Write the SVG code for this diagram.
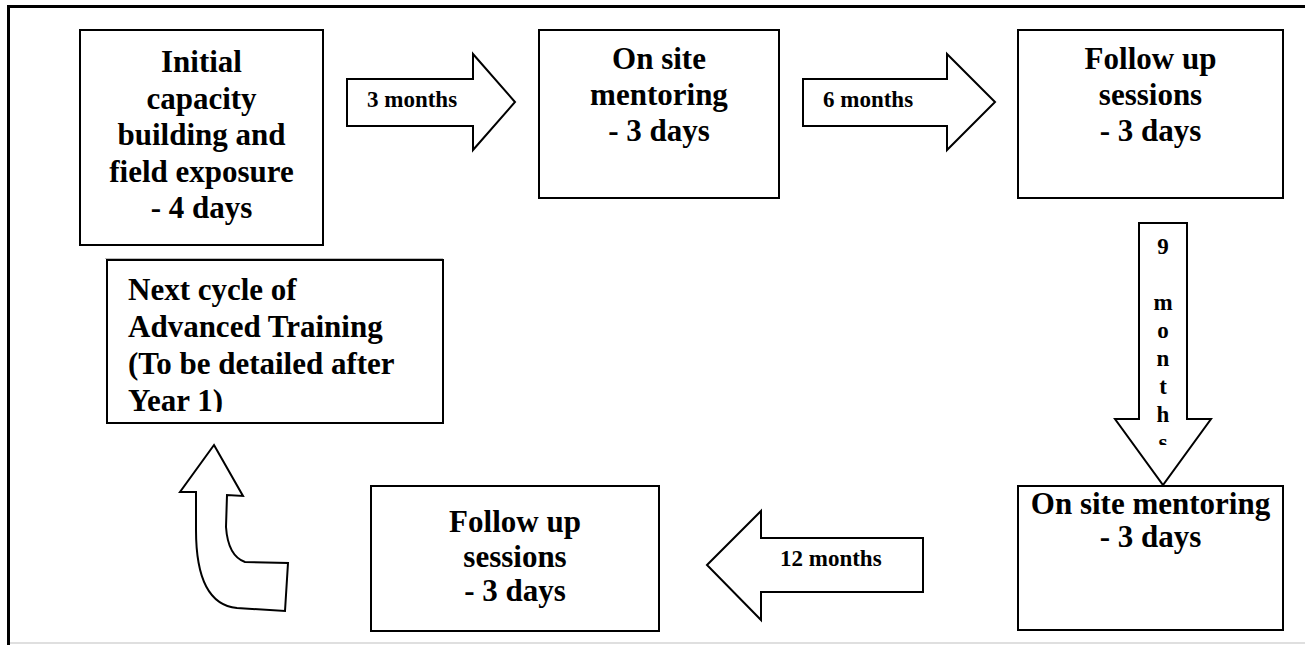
<svg xmlns="http://www.w3.org/2000/svg" width="1305" height="645" viewBox="0 0 1305 645">
<style>
.box{fill:#fff;stroke:#000;stroke-width:2}
.arr{fill:#fff;stroke:#000;stroke-width:2;stroke-linejoin:miter}
.t{font-family:"Liberation Serif","Times New Roman",serif;font-weight:bold;font-size:31px;fill:#000;text-anchor:middle}
.tl{font-family:"Liberation Serif","Times New Roman",serif;font-weight:bold;font-size:31px;fill:#000}
.lb{font-family:"Liberation Serif","Times New Roman",serif;font-weight:bold;font-size:23px;fill:#000}
.lbc{font-family:"Liberation Serif","Times New Roman",serif;font-weight:bold;font-size:23px;fill:#000;text-anchor:middle}
</style>
<defs>
<clipPath id="clipNext"><rect x="107" y="260" width="336" height="152"/></clipPath>
<clipPath id="clip9"><rect x="1139" y="223" width="48" height="222"/></clipPath>
</defs>
<rect x="0" y="0" width="1305" height="645" fill="#fff"/>
<g id="frame">
<line x1="7" y1="6.5" x2="1305" y2="6.5" stroke="#000" stroke-width="3"/>
<line x1="8.5" y1="5" x2="8.5" y2="645" stroke="#000" stroke-width="3"/>
<line x1="10" y1="643" x2="1305" y2="643" stroke="#d4d4d4" stroke-width="1.5"/>
</g>
<g id="connectors">
<polygon class="arr" points="347,79 473,79 473,54 515,102 473,150 473,126 347,126"/>
<text class="lb" x="367" y="107">3 months</text>
<polygon class="arr" points="803,79 947,79 947,54 995,102 947,150 947,126 803,126"/>
<text class="lb" x="823" y="107">6 months</text>
<polygon class="arr" points="1139,223 1187,223 1187,419 1211,419 1163,485 1115,419 1139,419"/>
<g clip-path="url(#clip9)">
<text class="lbc" x="1163" y="254">9</text>
<text class="lbc" x="1163" y="310">m</text>
<text class="lbc" x="1163" y="338">o</text>
<text class="lbc" x="1163" y="366">n</text>
<text class="lbc" x="1163" y="394">t</text>
<text class="lbc" x="1163" y="422">h</text>
<text class="lbc" x="1163" y="450">s</text>
</g>
<polygon class="arr" points="707,565 761,511 761,538 923,538 923,592 761,592 761,620"/>
<text class="lb" x="780" y="566">12 months</text>
<path class="arr" d="M214,445 L243,496 L227,495 L226,527 Q228,556 245,562 L288,563 L285,611 L237,608 C205,605 196,570 196,530 L196,492 L180,492 Z"/>
</g>
<g id="node-initial">
<rect class="box" x="80" y="30" width="243" height="215"/>
<text class="t" x="201.5" y="72">Initial</text>
<text class="t" x="201.5" y="108.5">capacity</text>
<text class="t" x="201.5" y="145">building and</text>
<text class="t" x="201.5" y="181.5">field exposure</text>
<text class="t" x="201.5" y="218">- 4 days</text>
</g>
<g id="node-onsite1">
<rect class="box" x="539" y="30" width="240" height="168"/>
<text class="t" x="659" y="69">On site</text>
<text class="t" x="659" y="105">mentoring</text>
<text class="t" x="659" y="141">- 3 days</text>
</g>
<g id="node-followup1">
<rect class="box" x="1018" y="30" width="265" height="168"/>
<text class="t" x="1150.5" y="69">Follow up</text>
<text class="t" x="1150.5" y="105">sessions</text>
<text class="t" x="1150.5" y="141">- 3 days</text>
</g>
<g id="node-onsite2">
<rect class="box" x="1018" y="486" width="265" height="144"/>
<text class="t" x="1150.5" y="514">On site mentoring</text>
<text class="t" x="1150.5" y="547">- 3 days</text>
</g>
<g id="node-followup2">
<rect class="box" x="371" y="486" width="288" height="145"/>
<text class="t" x="515" y="532">Follow up</text>
<text class="t" x="515" y="567">sessions</text>
<text class="t" x="515" y="601">- 3 days</text>
</g>
<g id="node-next">
<rect class="box" x="107" y="260" width="336" height="163"/>
<line x1="105" y1="258.5" x2="443" y2="258.5" stroke="#bbb" stroke-width="1"/>
<g clip-path="url(#clipNext)">
<text class="tl" x="128" y="300">Next cycle of</text>
<text class="tl" x="128" y="337">Advanced Training</text>
<text class="tl" x="128" y="374">(To be detailed after</text>
<text class="tl" x="128" y="411">Year 1)</text>
</g>
</g>
</svg>
